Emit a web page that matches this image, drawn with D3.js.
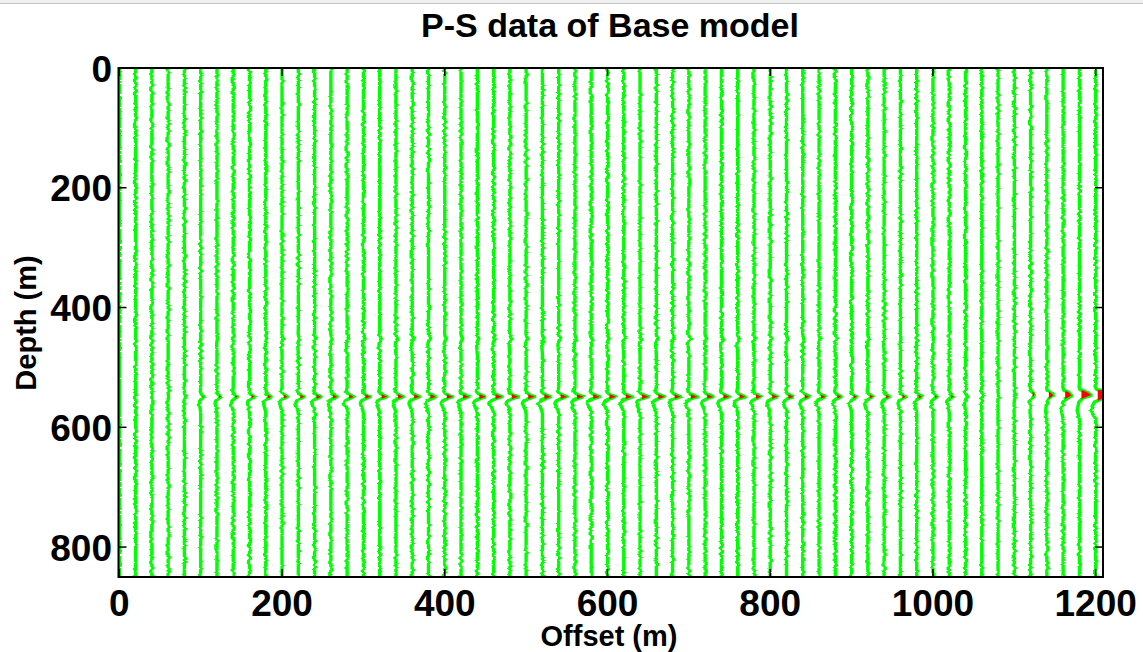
<!DOCTYPE html>
<html>
<head>
<meta charset="utf-8">
<script src="https://cdn.jsdelivr.net/npm/d3@7/dist/d3.min.js"></script>
<style>
  html, body { margin: 0; padding: 0; background: #ffffff; }
  svg { display: block; }
  text { font-family: "Liberation Sans", Arial, sans-serif; font-weight: bold; fill: #000; }
</style>
</head>
<body>
<svg id="chart" width="1143" height="652"></svg>
<script>
// ---------------- data ----------------
const title = "P-S data of Base model";
const xLabel = "Offset (m)";
const yLabel = "Depth (m)";
const xTicks = [0, 200, 400, 600, 800, 1000, 1200];
const yTicks = [0, 200, 400, 600, 800];

// receiver offsets (m)
const offsets = [0, 20, 40, 60, 80, 100, 120, 140, 160, 180, 200, 220, 240, 260, 280, 300,
  320, 340, 360, 380, 400, 420, 440, 460, 480, 500, 520, 540, 560, 580, 600, 620, 640, 660,
  680, 700, 720, 740, 760, 780, 800, 820, 840, 860, 880, 900, 920, 940, 960, 980, 1000,
  1020, 1040, 1060, 1080, 1100, 1120, 1140, 1160, 1180, 1200];

// main P-S reflection: depth (m) and amplitude per trace
const reflDepth = [549, 549, 549, 549, 549, 549, 549, 549, 549, 549, 549, 549, 549, 549, 549, 549,
  549, 549, 549, 549, 549, 549, 549, 549, 549, 549, 549, 549, 549, 549, 549, 549, 549, 549,
  549, 549, 549, 549, 549, 549, 549, 549, 549, 549, 549, 549, 549, 549, 549, 549, 549,
  549, 549, 548, 547, 546, 543, 543, 542, 541, 541];
const reflAmp = [0, 0, 0, 0.5, 1.5, 3, 4, 4, 4.5, 5, 5, 5.5, 6, 6, 6, 6.5,
  7, 7, 7, 7, 7.5, 7.5, 8, 8, 8, 8, 8, 8, 8, 8, 8, 8, 8, 8,
  7.5, 8, 7.5, 7.5, 7, 7, 7, 6.5, 6, 6, 5.5, 5, 5, 5, 5, 5, 4,
  4, 2, 1, 0.5, 0.5, 2, 1, 2, 2, 5];

// weak shallower event
const weakDepth = 452;
const weakAmp = [0, 0, 0, 0, 0, 0, 0.5, 0.5, 0.8, 1, 1, 1.2, 1.2, 1.5, 1.5, 1.5,
  1.5, 1.5, 1.5, 1.5, 1.5, 1.5, 1.5, 1.5, 1.5, 1.5, 1.5, 1.5, 1.5, 1.5, 1.5, 1.5, 1.5, 1.5,
  1.5, 1.5, 1.5, 1.5, 1.5, 1.2, 1.2, 1.2, 1, 1, 1, 1, 0.8, 0.8, 0.5, 0.5, 0.5,
  0, 0, 0, 0, 0, 0, 0, 0, 0, 0];

// far-offset crossing event (negative polarity)
const farOffsets = [1100, 1120, 1140, 1160, 1180, 1200];
const farDepth = [548, 547, 547, 547, 546, 546];
const farAmp = [-1, -3, -6, -8, -11, -26];

// wavelet shapes: relative depth (m) and normalised amplitude
const waveDz = [-16, -9, -5, 0, 4, 7, 11, 16, 22, 28];
const waveW  = [0, -0.12, 0.12, 1, 0.15, -0.3, -0.45, -0.3, -0.1, 0];
const farDz = [-9, 0, 6, 12, 18, 26, 34, 40];
const farW  = [0, -1, -0.35, 0, 0.1, 0.2, 0.08, 0];

// amplitude unit -> offset metres; fill only above this excursion (m)
const gain = 1.3;
const fillThreshold = 2.5;

// ---------------- chart ----------------
const svg = d3.select("#chart");
const L = 118.5, R = 1103, T = 68, B = 577;
const x = d3.scaleLinear().domain([-1, 1209]).range([L, R]);
const y = d3.scaleLinear().domain([0, 850]).range([T, B]);

// top window-chrome strip
svg.append("rect").attr("x", 0).attr("y", 0).attr("width", 1143).attr("height", 3).attr("fill", "#f0f0f0");
svg.append("line").attr("x1", 0).attr("x2", 1143).attr("y1", 3.5).attr("y2", 3.5)
  .attr("stroke", "#c4c4c4").attr("stroke-width", 1.2);

const defs = svg.append("defs");
defs.append("clipPath").attr("id", "plotClip").append("rect")
  .attr("x", L).attr("y", T).attr("width", R - L).attr("height", B - T);
const f = defs.append("filter").attr("id", "rough")
  .attr("filterUnits", "userSpaceOnUse")
  .attr("x", L - 10).attr("y", T - 10).attr("width", R - L + 20).attr("height", B - T + 20);
f.append("feTurbulence").attr("type", "fractalNoise").attr("baseFrequency", "0.05 0.3")
  .attr("numOctaves", 2).attr("seed", 7).attr("result", "noise0");
const ct = f.append("feComponentTransfer").attr("in", "noise0").attr("result", "noise");
ct.append("feFuncG").attr("type", "linear").attr("slope", 0).attr("intercept", 0.5);
f.append("feDisplacementMap").attr("in", "SourceGraphic").attr("in2", "noise")
  .attr("scale", 4).attr("xChannelSelector", "R").attr("yChannelSelector", "G");

// build trace samples
function traceSamples(i) {
  const off = offsets[i];
  const events = [];
  events.push({ d: reflDepth[i], a: reflAmp[i], dz: waveDz, w: waveW });
  if (weakAmp[i]) events.push({ d: weakDepth, a: weakAmp[i], dz: waveDz, w: waveW });
  const fi = farOffsets.indexOf(off);
  if (fi >= 0) events.push({ d: farDepth[fi], a: farAmp[fi], dz: farDz, w: farW });
  const depths = new Set([0, 850]);
  events.forEach(e => { if (e.a) e.dz.forEach(dz => depths.add(e.d + dz)); });
  const ds = Array.from(depths).sort((a, b) => a - b);
  return ds.map(d => {
    let v = 0;
    events.forEach(e => {
      if (!e.a) return;
      const z = d - e.d;
      if (z < e.dz[0] || z > e.dz[e.dz.length - 1]) return;
      let k = 0;
      while (k < e.dz.length - 1 && e.dz[k + 1] < z) k++;
      const z0 = e.dz[k], z1 = e.dz[k + 1];
      const t = z1 === z0 ? 0 : (z - z0) / (z1 - z0);
      v += e.a * (e.w[k] + t * (e.w[k + 1] - e.w[k]));
    });
    return { d, off, v: v * gain };
  });
}

const traces = offsets.map((o, i) => traceSamples(i));

const plot = svg.append("g").attr("clip-path", "url(#plotClip)");

// green wiggles
const line = d3.line().x(p => x(p.off + p.v)).y(p => y(p.d));
plot.append("g").attr("filter", "url(#rough)")
  .selectAll("path").data(traces).join("path")
  .attr("d", line).attr("fill", "none").attr("stroke", "#00ff00")
  .attr("stroke-width", 3.4).attr("stroke-linejoin", "round");

// red fill of strong positive excursions
const area = d3.area()
  .defined(p => p.v > fillThreshold)
  .y(p => y(p.d))
  .x0(p => x(p.off + fillThreshold))
  .x1(p => x(p.off + p.v));
const fillData = traces.map(tr => {
  // insert threshold crossings so the fill starts exactly at the threshold
  const out = [];
  for (let k = 0; k < tr.length; k++) {
    const p = tr[k];
    if (k > 0) {
      const q = tr[k - 1];
      const a = q.v - fillThreshold, b = p.v - fillThreshold;
      if ((a > 0) !== (b > 0) && a !== b) {
        const t = a / (a - b);
        out.push({ d: q.d + t * (p.d - q.d), off: p.off, v: fillThreshold + 1e-6 });
      }
    }
    out.push(p);
  }
  return out;
});
plot.append("g").selectAll("path").data(fillData).join("path")
  .attr("d", area).attr("fill", "#ff0000").attr("stroke", "none");

// axes frame
svg.append("rect").attr("x", L).attr("y", T).attr("width", R - L).attr("height", B - T)
  .attr("fill", "none").attr("stroke", "#000").attr("stroke-width", 2);

// inward ticks
const tickLen = 8;
svg.append("g").selectAll("line").data(yTicks).join("line")
  .attr("x1", L).attr("x2", L + tickLen).attr("y1", d => y(d)).attr("y2", d => y(d))
  .attr("stroke", "#000").attr("stroke-width", 1.5);
svg.append("g").selectAll("line").data(yTicks).join("line")
  .attr("x1", R).attr("x2", R - tickLen).attr("y1", d => y(d)).attr("y2", d => y(d))
  .attr("stroke", "#000").attr("stroke-width", 1.5);
svg.append("g").selectAll("line").data(xTicks).join("line")
  .attr("x1", d => x(d)).attr("x2", d => x(d)).attr("y1", B).attr("y2", B - tickLen)
  .attr("stroke", "#000").attr("stroke-width", 1.5);
svg.append("g").selectAll("line").data(xTicks).join("line")
  .attr("x1", d => x(d)).attr("x2", d => x(d)).attr("y1", T).attr("y2", T + tickLen)
  .attr("stroke", "#000").attr("stroke-width", 1.5);

// tick labels
svg.append("g").selectAll("text").data(yTicks).join("text")
  .attr("x", 112).attr("y", d => y(d) + 13.5)
  .attr("text-anchor", "end").style("font-size", "37px").text(d => d);
svg.append("g").selectAll("text").data(xTicks).join("text")
  .attr("x", d => x(d)).attr("y", 616)
  .attr("text-anchor", "middle").style("font-size", "37px").text(d => d);

// titles
svg.append("text").attr("x", 610).attr("y", 37).attr("text-anchor", "middle")
  .style("font-size", "34px").text(title);
svg.append("text").attr("x", 609).attr("y", 646).attr("text-anchor", "middle")
  .style("font-size", "29px").text(xLabel);
svg.append("text").attr("transform", "translate(36,323) rotate(-90)").attr("text-anchor", "middle")
  .style("font-size", "29px").text(yLabel);
</script>
</body>
</html>
